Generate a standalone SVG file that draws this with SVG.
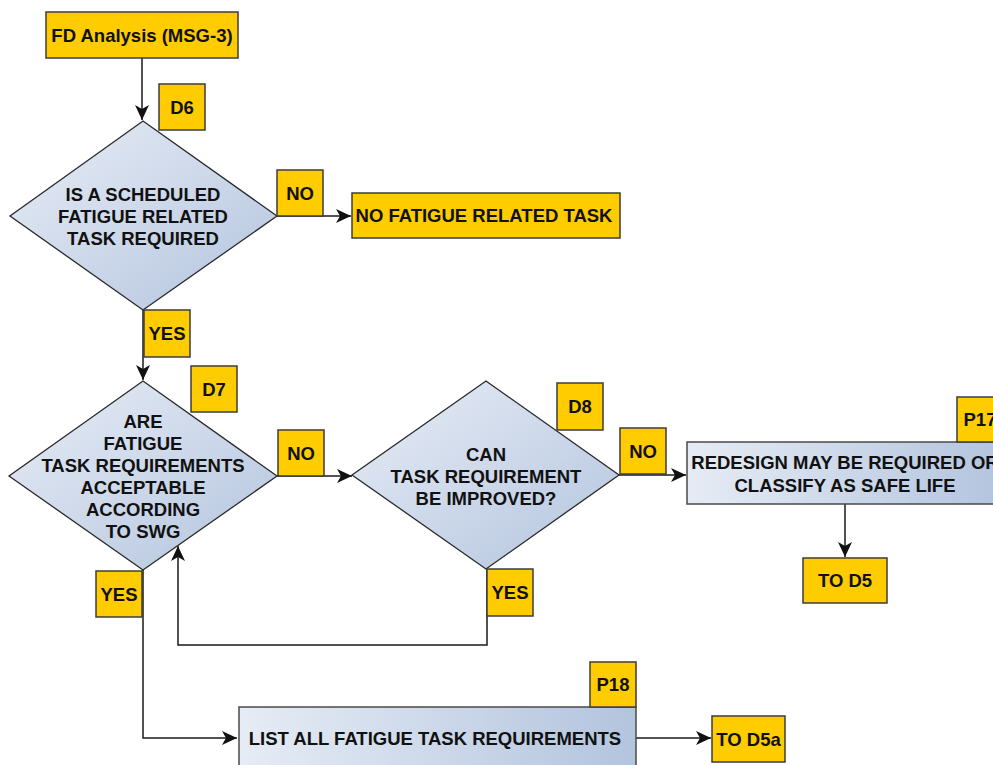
<svg xmlns="http://www.w3.org/2000/svg" width="993" height="765" viewBox="0 0 993 765">
<style>
.y{fill:#FFCC00;stroke:#3C3C3C;stroke-width:1.5}
.d{fill:url(#gd);stroke:#2A2A2A;stroke-width:1.3}
.b{stroke:#4A4A4A;stroke-width:1.5}
.t{font-family:"Liberation Sans",Arial,sans-serif;font-weight:bold;font-size:18.5px;fill:#111;text-anchor:middle}
.c{fill:none;stroke:#1A1A1A;stroke-width:1.5}
</style>
<defs>
<linearGradient id="gd" x1="0" y1="0" x2="1" y2="1">
<stop offset="0" stop-color="#E8EDF6"/>
<stop offset="1" stop-color="#B3C4DE"/>
</linearGradient>
<linearGradient id="gh" x1="0" y1="0" x2="1" y2="0">
<stop offset="0" stop-color="#E6ECF5"/>
<stop offset="1" stop-color="#B3C4DE"/>
</linearGradient>
<marker id="ar" markerUnits="userSpaceOnUse" markerWidth="16" markerHeight="14" refX="15" refY="7" orient="auto">
<path d="M0,0 L15,7 L0,14 L4,7 Z" fill="#111"/>
</marker>
</defs>
<g id="connectors">
<path class="c" d="M142,58 V120" marker-end="url(#ar)"/>
<path class="c" d="M277,216 H351" marker-end="url(#ar)"/>
<path class="c" d="M143,310 V380" marker-end="url(#ar)"/>
<path class="c" d="M277,476 H352" marker-end="url(#ar)"/>
<path class="c" d="M619,475 H686" marker-end="url(#ar)"/>
<path class="c" d="M845,504 V557" marker-end="url(#ar)"/>
<path class="c" d="M487,569 V645 H178 V546" marker-end="url(#ar)"/>
<path class="c" d="M143,570 V738 H237" marker-end="url(#ar)"/>
<path class="c" d="M636,738 H711" marker-end="url(#ar)"/>
</g>
<g id="start">
<rect class="y" x="46" y="12" width="192" height="46"/>
<text class="t" x="142" y="41.5">FD Analysis (MSG-3)</text>
</g>
<g id="d6">
<path class="d" d="M143,121 L277,216 L143,310 L10,216 Z"/>
<text class="t" x="143" y="200.5">IS A SCHEDULED</text>
<text class="t" x="143" y="222.5">FATIGUE RELATED</text>
<text class="t" x="143" y="244.5">TASK REQUIRED</text>
</g>
<g id="d6-label">
<rect class="y" x="159" y="84" width="46" height="46"/>
<text class="t" x="182" y="113.5">D6</text>
</g>
<g id="d6-no">
<rect class="y" x="277" y="170" width="46" height="46"/>
<text class="t" x="300" y="199.5">NO</text>
</g>
<g id="no-task">
<rect class="y" x="352" y="193" width="268" height="45"/>
<text class="t" x="484" y="222">NO FATIGUE RELATED TASK</text>
</g>
<g id="d6-yes">
<rect class="y" x="144" y="310" width="46" height="47"/>
<text class="t" x="167" y="340">YES</text>
</g>
<g id="d7">
<path class="d" d="M143,381 L277,476 L143,570 L9,476 Z"/>
<text class="t" x="143" y="427.5">ARE</text>
<text class="t" x="143" y="449.5">FATIGUE</text>
<text class="t" x="143" y="471.5">TASK REQUIREMENTS</text>
<text class="t" x="143" y="493.5">ACCEPTABLE</text>
<text class="t" x="143" y="515.5">ACCORDING</text>
<text class="t" x="143" y="537.5">TO SWG</text>
</g>
<g id="d7-label">
<rect class="y" x="191" y="366" width="46" height="46"/>
<text class="t" x="214" y="395.5">D7</text>
</g>
<g id="d7-no">
<rect class="y" x="278" y="430" width="46" height="46"/>
<text class="t" x="301" y="459.5">NO</text>
</g>
<g id="d7-yes">
<rect class="y" x="96" y="571" width="46" height="46"/>
<text class="t" x="119" y="600.5">YES</text>
</g>
<g id="d8">
<path class="d" d="M486,381 L619,475 L486,569 L352,475 Z"/>
<text class="t" x="486" y="460.5">CAN</text>
<text class="t" x="486" y="482.5">TASK REQUIREMENT</text>
<text class="t" x="486" y="504.5">BE IMPROVED?</text>
</g>
<g id="d8-label">
<rect class="y" x="557" y="383" width="46" height="47"/>
<text class="t" x="580" y="413">D8</text>
</g>
<g id="d8-no">
<rect class="y" x="620" y="428" width="46" height="46"/>
<text class="t" x="643" y="457.5">NO</text>
</g>
<g id="d8-yes">
<rect class="y" x="487" y="569" width="46" height="47"/>
<text class="t" x="510" y="599">YES</text>
</g>
<g id="p17">
<rect class="b" fill="url(#gh)" x="687" y="442" width="316" height="62"/>
<text class="t" x="845" y="468.5">REDESIGN MAY BE REQUIRED OR</text>
<text class="t" x="845" y="491.5">CLASSIFY AS SAFE LIFE</text>
</g>
<g id="p17-label">
<rect class="y" x="957" y="397" width="46" height="45"/>
<text class="t" x="980" y="426">P17</text>
</g>
<g id="to-d5">
<rect class="y" x="803" y="558" width="84" height="45"/>
<text class="t" x="845" y="587">TO D5</text>
</g>
<g id="p18">
<rect class="b" fill="url(#gh)" x="239" y="707" width="397" height="70"/>
<text class="t" x="435" y="744.5">LIST ALL FATIGUE TASK REQUIREMENTS</text>
</g>
<g id="p18-label">
<rect class="y" x="590" y="662" width="46" height="45"/>
<text class="t" x="613" y="691">P18</text>
</g>
<g id="to-d5a">
<rect class="y" x="712" y="716" width="73" height="46"/>
<text class="t" x="748.5" y="745.5">TO D5a</text>
</g>
</svg>
